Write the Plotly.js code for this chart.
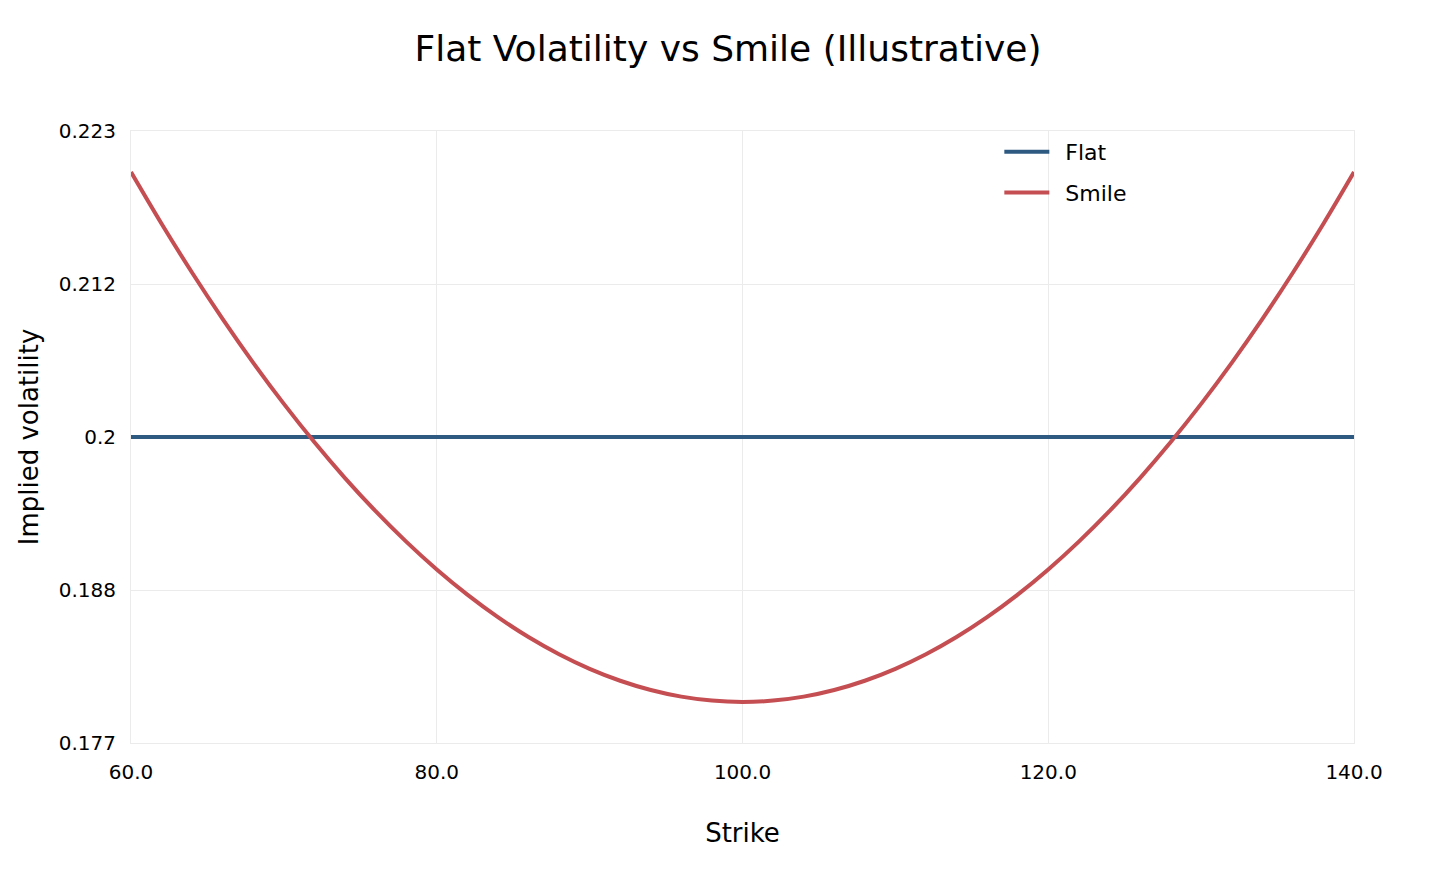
<!DOCTYPE html>
<html>
<head>
<meta charset="utf-8">
<script src="https://cdn.plot.ly/plotly-3.0.1.min.js"></script>
<style>
  html, body { margin: 0; padding: 0; background: #fff; }
  #chart { width: 1456px; height: 874px; }
</style>
</head>
<body>
<div id="chart"></div>
<script>
// strikes and implied vols
var strikes = [60, 62, 64, 66, 68, 70, 72, 74, 76, 78, 80, 82, 84, 86, 88, 90, 92, 94, 96, 98, 100,
               102, 104, 106, 108, 110, 112, 114, 116, 118, 120, 122, 124, 126, 128, 130, 132, 134, 136, 138, 140];
var flatVol = [0.2, 0.2, 0.2, 0.2, 0.2, 0.2, 0.2, 0.2, 0.2, 0.2, 0.2, 0.2, 0.2, 0.2, 0.2, 0.2, 0.2, 0.2, 0.2, 0.2, 0.2,
               0.2, 0.2, 0.2, 0.2, 0.2, 0.2, 0.2, 0.2, 0.2, 0.2, 0.2, 0.2, 0.2, 0.2, 0.2, 0.2, 0.2, 0.2, 0.2, 0.2];
var smileVol = [0.2200, 0.2161, 0.2124, 0.2089, 0.2056, 0.2025, 0.1996, 0.1969, 0.1944, 0.1921, 0.1900,
                0.1881, 0.1864, 0.1849, 0.1836, 0.1825, 0.1816, 0.1809, 0.1804, 0.1801, 0.1800,
                0.1801, 0.1804, 0.1809, 0.1816, 0.1825, 0.1836, 0.1849, 0.1864, 0.1881, 0.1900,
                0.1921, 0.1944, 0.1969, 0.1996, 0.2025, 0.2056, 0.2089, 0.2124, 0.2161, 0.2200];

var xTickVals = [60, 80, 100, 120, 140];
var xTickText = ['60.0', '80.0', '100.0', '120.0', '140.0'];
var yTickVals = [0.1769, 0.18845, 0.2, 0.21155, 0.2231];
var yTickText = ['0.177', '0.188', '0.2', '0.212', '0.223'];

var font = 'DejaVu Sans, sans-serif';
var gridColor = '#ebebeb';

var data = [
    {
        x: strikes,
        y: flatVol,
        type: 'scatter',
        mode: 'lines',
        name: 'Flat',
        legendgroup: 'a',
        line: { color: '#2e5a82', width: 4 }
    },
    {
        x: strikes,
        y: smileVol,
        type: 'scatter',
        mode: 'lines',
        name: 'Smile',
        legendgroup: 'b',
        line: { color: '#c44e52', width: 4, shape: 'spline' }
    }
];

var layout = {
    width: 1456,
    height: 874,
    paper_bgcolor: '#ffffff',
    plot_bgcolor: '#ffffff',
    font: { family: font, color: '#000000', size: 20 },
    margin: { l: 131, r: 102, t: 131, b: 131 },
    title: {
        text: 'Flat Volatility vs Smile (Illustrative)',
        font: { family: font, size: 36, color: '#000000' },
        x: 0.5,
        xanchor: 'center',
        y: 0.945,
        yanchor: 'middle'
    },
    xaxis: {
        title: { text: 'Strike', font: { size: 26 }, standoff: 40 },
        range: [60, 140],
        tickvals: xTickVals,
        ticktext: xTickText,
        ticks: '',
        ticklabelstandoff: 11,
        tickfont: { size: 20 },
        showgrid: true,
        gridcolor: gridColor,
        gridwidth: 1,
        showline: true,
        linecolor: gridColor,
        linewidth: 1,
        mirror: true,
        zeroline: false,
        automargin: false
    },
    yaxis: {
        title: { text: 'Implied volatility', font: { size: 26 }, standoff: 12 },
        range: [0.1769, 0.2231],
        tickvals: yTickVals,
        ticktext: yTickText,
        ticks: '',
        ticklabelstandoff: 10,
        tickfont: { size: 20 },
        showgrid: true,
        gridcolor: gridColor,
        gridwidth: 1,
        showline: true,
        linecolor: gridColor,
        linewidth: 1,
        mirror: true,
        zeroline: false,
        automargin: false
    },
    legend: {
        x: 0.71,
        y: 1.0,
        xanchor: 'left',
        yanchor: 'top',
        bgcolor: 'rgba(0,0,0,0)',
        font: { family: font, size: 22, color: '#000000' },
        traceorder: 'grouped',
        tracegroupgap: 9,
        itemwidth: 56
    },
    showlegend: true
};

Plotly.newPlot('chart', data, layout, { displayModeBar: false, staticPlot: true }).then(function(gd)
{
    // longer legend swatches, as in the reference
    var paths = gd.querySelectorAll('.legend .legendlines path');
    paths.forEach(function(p) { p.setAttribute('d', 'M5,0h45'); });
});
</script>
</body>
</html>
